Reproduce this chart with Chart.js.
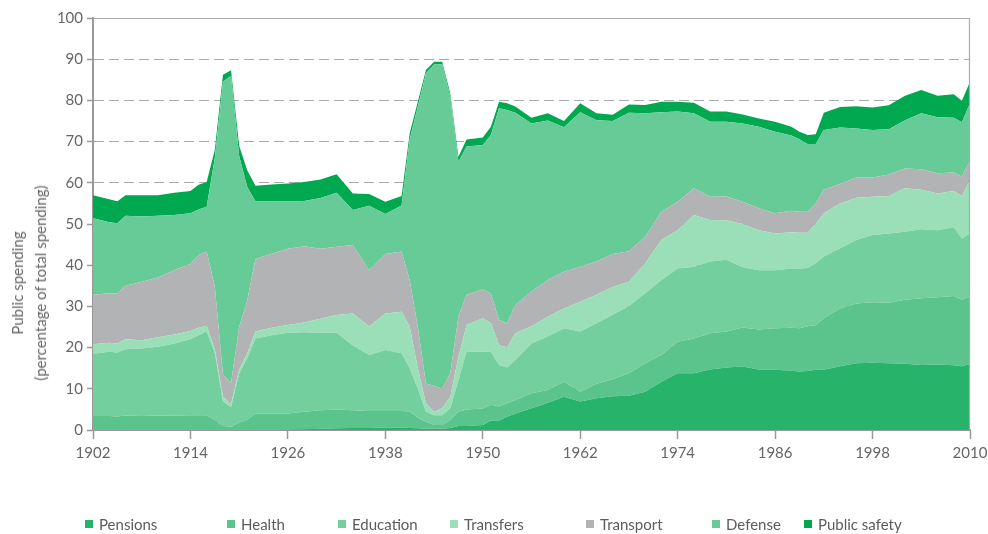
<!DOCTYPE html>
<html>
<head>
<meta charset="utf-8">
<script src="https://cdn.jsdelivr.net/npm/chart.js@4/dist/chart.umd.min.js"></script>
<style>
  html, body { margin: 0; padding: 0; background: #fff; overflow: hidden; }
  #wrap { position: relative; width: 988px; height: 534px; font-family: Lato, sans-serif; }
  #yTitle {
    position: absolute; left: 29px; top: 283px;
    transform: translate(-50%, -50%) rotate(-90deg);
    white-space: nowrap; text-align: center;
    font-size: 15px; line-height: 23px; color: #666;
  }
  .item { position: absolute; top: 515px; height: 18px; font-size: 15px; line-height: 18px; color: #5c5c5c; white-space: nowrap; }
  .item i { position: absolute; left: 0; top: 5px; width: 8px; height: 8px; }
  .item span { position: absolute; left: 14px; top: 0; }
</style>
</head>
<body>
<div id="wrap">
  <canvas id="areaChart" width="988" height="534"></canvas>
  <div id="yTitle">Public spending<br>(percentage of total spending)</div>
  <div id="legend"></div>
</div>
<script>
// share of total public spending, by category (stacked from the bottom)
var years = [1902, 1904, 1905, 1906, 1908, 1910, 1912, 1914, 1915, 1916,
  1917, 1918, 1919, 1920, 1921, 1922, 1924, 1926, 1928, 1930,
  1932, 1934, 1936, 1938, 1940, 1941, 1942, 1943, 1944, 1945,
  1946, 1947, 1948, 1950, 1951, 1952, 1953, 1954, 1956, 1958,
  1960, 1962, 1964, 1966, 1968, 1970, 1972, 1974, 1976, 1978,
  1980, 1982, 1984, 1986, 1988, 1989, 1990, 1991, 1992, 1994,
  1996, 1998, 2000, 2002, 2004, 2006, 2008, 2009, 2010];

var pensions = [0, 0, 0, 0, 0, 0, 0, 0, 0, 0,
  0, 0, 0, 0, 0, 0, 0, 0, 0.1, 0.3,
  0.4, 0.5, 0.5, 0.6, 0.6, 0.5, 0.4, 0.3, 0.3, 0.3,
  0.5, 1.0, 1.0, 1.2, 2.3, 2.3, 3.2, 4.0, 5.3, 6.6,
  8.1, 6.9, 7.7, 8.2, 8.3, 9.3, 11.7, 13.8, 13.8, 14.7,
  15.2, 15.4, 14.7, 14.6, 14.4, 14.2, 14.3, 14.6, 14.6, 15.5,
  16.2, 16.3, 16.2, 16.1, 15.8, 15.9, 15.7, 15.5, 16.0];

var health = [3.4, 3.4, 3.3, 3.5, 3.4, 3.5, 3.5, 3.6, 3.6, 3.6,
  2.5, 1.0, 0.8, 1.8, 2.5, 4.0, 4.0, 4.0, 4.3, 4.5,
  4.6, 4.3, 4.1, 4.0, 4.0, 4.0, 2.6, 1.7, 0.9, 0.9,
  1.9, 3.4, 4.0, 4.0, 3.8, 3.4, 3.3, 3.3, 3.6, 3.1,
  3.6, 2.4, 3.5, 4.1, 5.5, 6.9, 6.5, 7.6, 8.4, 8.8,
  8.7, 9.5, 9.7, 10.1, 10.4, 10.5, 10.9, 10.8, 12.5, 14.0,
  14.5, 14.7, 14.7, 15.5, 16.2, 16.3, 16.8, 16.1, 16.5];

var education = [15.1, 15.6, 15.5, 16.1, 16.4, 16.7, 17.5, 18.4, 19.4, 20.3,
  16.2, 6.0, 4.7, 12.0, 14.9, 18.2, 19.0, 19.6, 19.3, 18.8,
  18.6, 15.7, 13.6, 14.8, 14.0, 10.5, 7.0, 2.4, 2.4, 2.4,
  2.9, 7.7, 14.0, 13.8, 12.9, 10.1, 8.7, 9.7, 12.1, 13.0,
  13.0, 14.6, 14.7, 15.7, 16.3, 17.0, 18.2, 17.8, 17.4, 17.4,
  17.4, 14.6, 14.4, 14.1, 14.4, 14.5, 14.1, 15.1, 15.0, 14.6,
  15.4, 16.3, 16.8, 16.5, 16.7, 16.3, 16.7, 14.9, 15.2];

var transfers = [2.3, 2.2, 2.2, 2.4, 2.0, 2.3, 2.2, 2.0, 1.8, 1.4,
  0.9, 1.0, 0.8, 0.8, 1.2, 1.7, 1.8, 1.9, 2.4, 3.4,
  4.3, 7.8, 6.9, 8.9, 10.1, 10.1, 5.0, 2.1, 0.8, 1.7,
  2.8, 5.7, 6.5, 8.1, 7.0, 4.8, 4.9, 6.5, 4.2, 4.8,
  4.8, 7.2, 6.9, 6.7, 5.9, 7.3, 9.7, 9.3, 12.6, 10.1,
  9.6, 10.5, 9.7, 8.9, 8.8, 8.7, 8.6, 9.5, 10.5, 10.9,
  10.3, 9.3, 9.1, 10.6, 9.6, 8.9, 8.8, 10.3, 13.0];

var transport = [12.0, 12.0, 12.2, 13.0, 14.2, 14.5, 15.6, 16.3, 17.7, 18.0,
  15.2, 5.5, 5.1, 10.4, 12.9, 17.6, 18.0, 18.5, 18.5, 17.0,
  16.6, 16.6, 13.7, 14.4, 14.6, 11.3, 10.0, 4.8, 6.3, 4.8,
  5.7, 9.7, 7.3, 7.0, 7.2, 6.1, 5.8, 6.8, 8.4, 8.9,
  8.9, 8.5, 8.1, 8.0, 7.4, 6.4, 6.9, 6.9, 6.5, 5.6,
  5.8, 5.4, 5.3, 4.9, 5.2, 5.1, 5.1, 5.0, 5.7, 4.7,
  4.9, 4.7, 5.2, 4.8, 5.0, 4.9, 4.5, 4.7, 4.8];

var defense = [18.6, 17.2, 17.0, 17.0, 15.8, 15.0, 13.4, 12.3, 11.0, 10.9,
  31.2, 71.0, 74.6, 41.5, 27.5, 14.0, 12.7, 11.5, 11.0, 12.3,
  13.1, 8.5, 15.6, 9.7, 11.2, 34.1, 53.5, 75.3, 78.0, 78.7,
  67.1, 37.6, 36.0, 35.1, 38.4, 51.4, 51.8, 46.7, 40.8, 38.7,
  35.1, 37.5, 34.3, 32.3, 33.6, 30.0, 24.1, 21.9, 18.2, 18.2,
  18.1, 19.0, 19.8, 19.8, 18.3, 17.6, 16.4, 14.4, 14.5, 13.7,
  11.9, 11.5, 11.0, 11.7, 13.6, 13.6, 13.3, 13.2, 13.8];

var safety = [5.6, 5.6, 5.3, 5.0, 5.2, 5.0, 5.4, 5.4, 6.0, 6.0,
  2.0, 1.7, 1.3, 2.5, 4.0, 3.8, 4.1, 4.3, 4.6, 4.5,
  4.5, 4.0, 2.9, 3.0, 2.3, 1.5, 1.2, 0.8, 0.7, 0.6,
  0.8, 1.2, 1.7, 1.8, 2.0, 1.6, 1.6, 1.5, 1.4, 1.8,
  1.5, 2.2, 1.7, 1.5, 2.0, 2.0, 2.6, 2.4, 2.5, 2.5,
  2.5, 2.2, 2.0, 2.4, 2.1, 1.8, 2.2, 2.4, 4.2, 5.0,
  5.4, 5.5, 5.8, 5.9, 5.6, 5.2, 5.7, 5.2, 5.2];

var xTicks = [1902, 1914, 1926, 1938, 1950, 1962, 1974, 1986, 1998, 2010];
var yTicks = [0, 10, 20, 30, 40, 50, 60, 70, 80, 90, 100];

var names = ["Pensions", "Health", "Education", "Transfers", "Transport", "Defense", "Public safety"];
var series = [pensions, health, education, transfers, transport, defense, safety];
var colors = ["#27b46a", "#5bc48c", "#74cf9f", "#9bdfb9", "#b2b3b5", "#67cb98", "#00a94f"];
var legendLeft = [85, 227, 338, 450, 586, 712, 804];

var datasets = series.map(function (vals, k) {
  return {
    label: names[k],
    data: vals.map(function (v, i) { return { x: years[i], y: v }; }),
    backgroundColor: colors[k],
    borderWidth: 0,
    pointRadius: 0,
    tension: 0,
    fill: k === 0 ? 'origin' : '-1'
  };
});

// thin frame on the top and right of the plot
var frame = {
  id: 'frame',
  afterDatasetsDraw: function (chart) {
    var a = chart.chartArea, c = chart.ctx;
    c.save();
    c.strokeStyle = '#aaa';
    c.lineWidth = 1.2;
    c.beginPath();
    c.moveTo(a.left, a.top + 0.5);
    c.lineTo(a.right - 0.5, a.top + 0.5);
    c.lineTo(a.right - 0.5, a.bottom);
    c.stroke();
    c.restore();
  }
};

var ctx = document.getElementById("areaChart").getContext("2d");
var myChart = new Chart(ctx, {
  type: 'line',
  data: { datasets: datasets },
  plugins: [frame],
  options: {
    responsive: false,
    devicePixelRatio: 1,
    animation: false,
    layout: { padding: { top: 18, right: 18, left: 0, bottom: 0 } },
    plugins: { legend: { display: false }, tooltip: { enabled: false } },
    scales: {
      x: {
        type: 'linear',
        min: 1902,
        max: 2010,
        afterFit: function (s) { s.height = 104; s.paddingRight = 0; s.paddingLeft = 0; },
        afterBuildTicks: function (s) { s.ticks = xTicks.map(function (v) { return { value: v }; }); },
        ticks: {
          autoSkip: false,
          maxRotation: 0,
          padding: 5,
          color: '#666',
          font: { family: 'Lato', size: 15 },
          callback: function (v) { return String(v); }
        },
        grid: { drawOnChartArea: false, drawTicks: true, tickLength: 9, tickColor: '#999', tickWidth: 1.5 },
        border: { color: '#999', width: 2 }
      },
      y: {
        stacked: true,
        min: 0,
        max: 100,
        afterFit: function (s) { s.width = 93; },
        afterBuildTicks: function (s) { s.ticks = yTicks.map(function (v) { return { value: v }; }); },
        ticks: {
          padding: 4,
          color: '#666',
          font: { family: 'Lato', size: 15 }
        },
        grid: {
          color: function (c) { return (c.tick && c.tick.value > 0 && c.tick.value < 100) ? '#aaa' : 'rgba(0,0,0,0)'; },
          lineWidth: 1,
          tickLength: 6,
          tickColor: '#999',
          tickWidth: 1.5
        },
        border: { color: '#999', width: 2, dash: [10, 5] }
      }
    }
  }
});

// legend
var legend = document.getElementById("legend");
names.forEach(function (n, k) {
  var d = document.createElement("div");
  d.className = "item";
  d.style.left = legendLeft[k] + "px";
  d.innerHTML = '<i style="background:' + colors[k] + '"></i><span>' + n + '</span>';
  legend.appendChild(d);
});
</script>
</body>
</html>
